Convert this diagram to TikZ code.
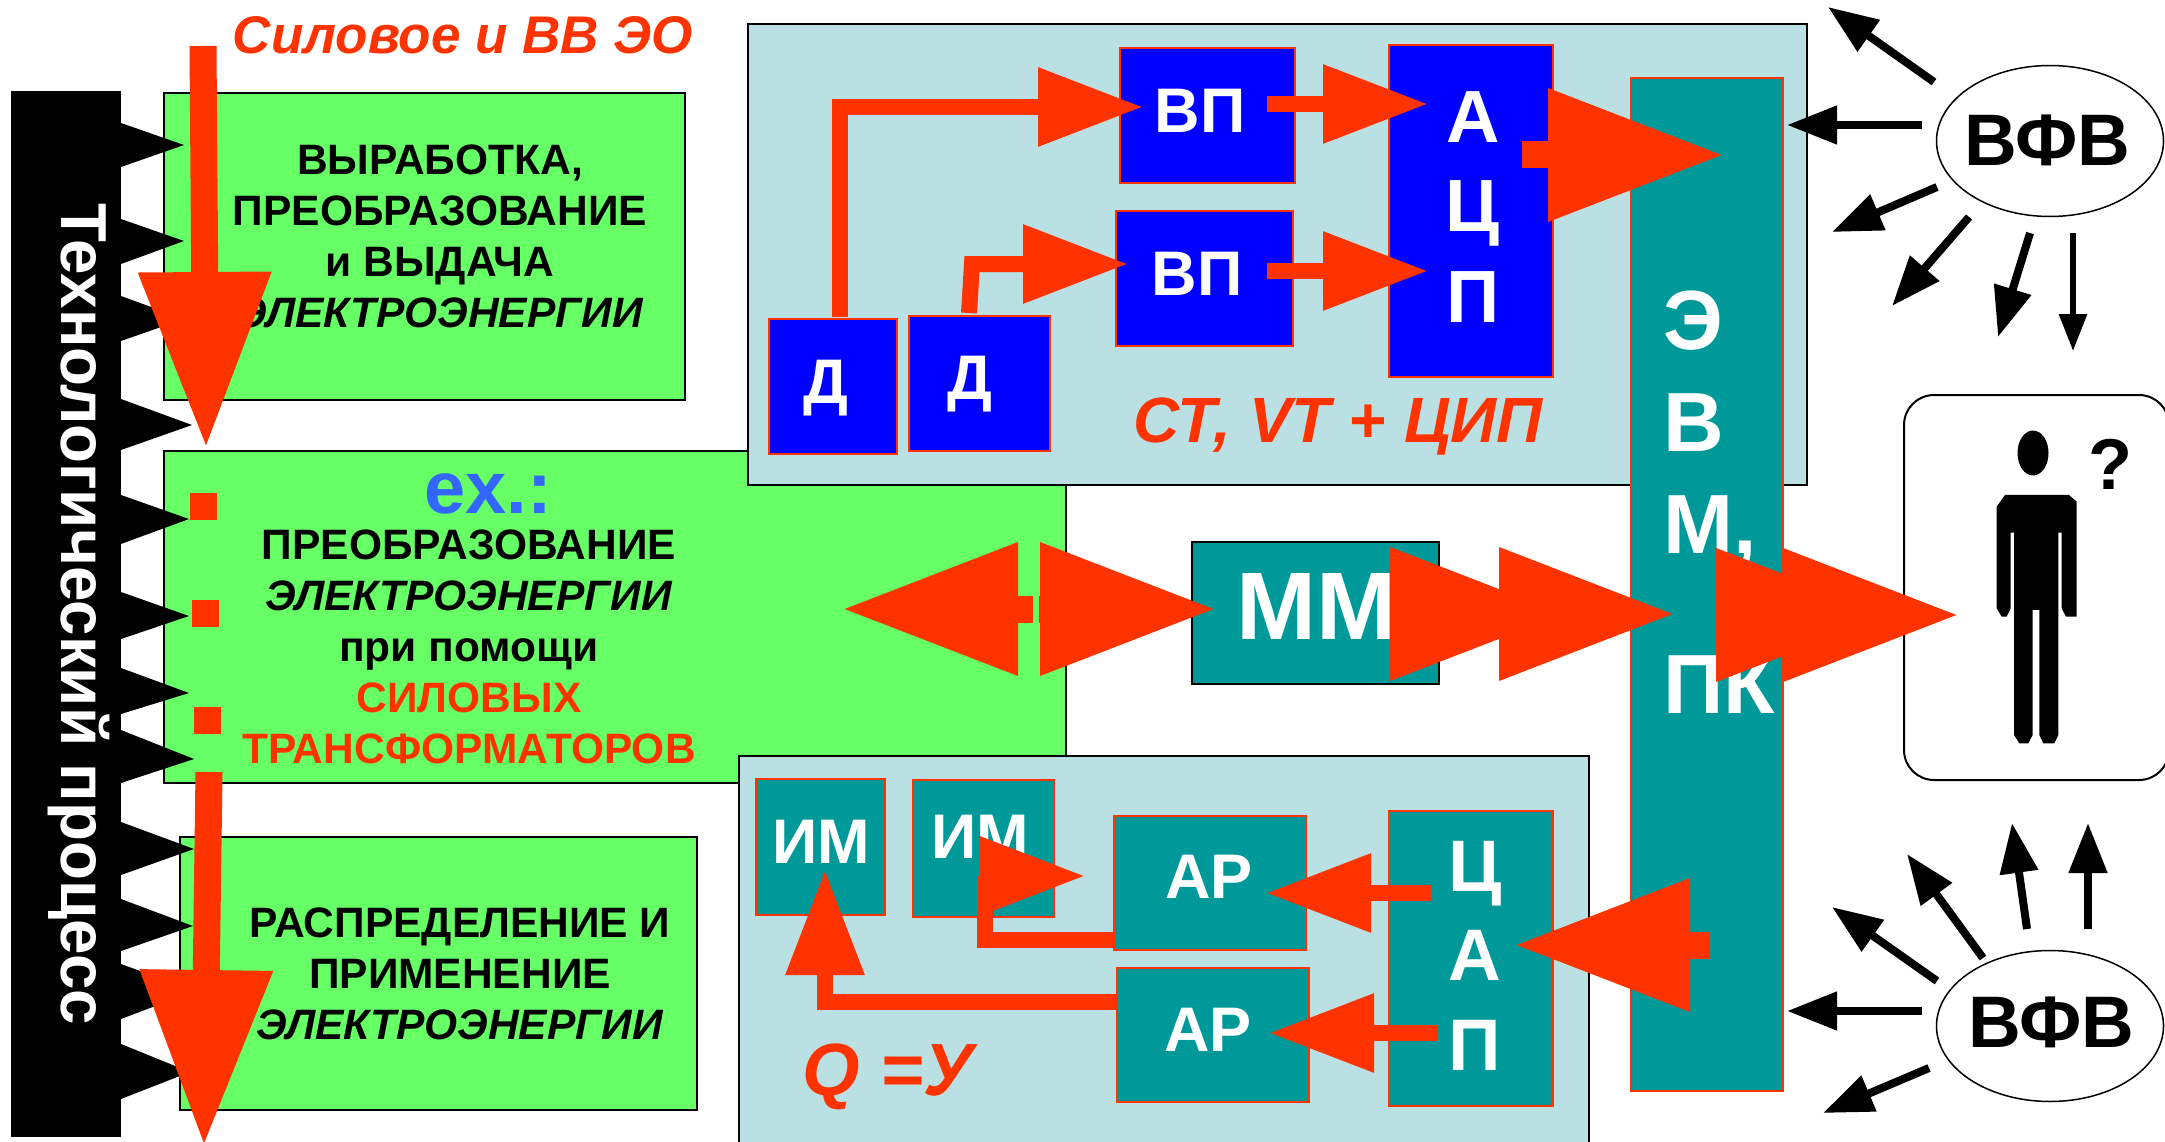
\documentclass[tikz,border=0pt]{standalone}
\usepackage{graphicx}
\usepackage{fontspec}
\setmainfont{Liberation Sans}
\usetikzlibrary{arrows.meta,shapes.geometric}
\definecolor{arred}{RGB}{255,51,0}
\definecolor{argreen}{RGB}{102,255,102}
\definecolor{arteal}{RGB}{0,153,153}
\definecolor{arblue}{RGB}{0,0,255}
\definecolor{arsky}{RGB}{51,102,255}
\definecolor{arpanel}{RGB}{187,224,227}
\begin{document}
\begin{tikzpicture}[
  x=1pt, y=-1pt,
  block/.style={draw, line width=2pt, inner sep=0pt, anchor=north west},
  greenbox/.style={block, draw=black, fill=argreen},
  panel/.style={block, draw=black, fill=arpanel},
  bluebox/.style={block, draw=arred, fill=arblue},
  tealbox/.style={block, draw=arred, fill=arteal},
  txt/.style={inner sep=0pt, anchor=base, align=center, font=\fontsize{42.5}{51}\selectfont\bfseries},
  lab/.style={inner sep=0pt, anchor=base, align=center, text=white, font=\fontsize{#1}{#1}\selectfont\bfseries},
  redtxt/.style={inner sep=0pt, anchor=base, text=arred, font=\fontsize{#1}{#1}\selectfont\bfseries\itshape},
  vfv/.style={ellipse, draw=black, line width=1.5pt, fill=white, inner sep=0pt, minimum width=227pt, minimum height=151pt},
  sq/.style={fill=arred, inner sep=0pt, minimum width=27pt, minimum height=27pt},
  bigarr/.style={arred, line width=27pt, shorten >=-4pt, -{Triangle[length=176pt,width=126pt]}},
  midarr/.style={arred, line width=16pt, shorten >=-2pt, -{Triangle[length=105pt,width=75pt]}},
  blkarr/.style={black, line width=8pt, -{Triangle[length=50pt,width=37pt]}},
  thinarr/.style={black, line width=6pt, -{Triangle[length=37pt,width=27pt]}}
]
\useasboundingbox (0,0) rectangle (2165,1142);
\clip (0,0) rectangle (2165,1142);
% green blocks
\node[greenbox, minimum width=521pt, minimum height=307pt] (gen)  at (163,92)  {};
\node[greenbox, minimum width=902pt, minimum height=332pt] (conv) at (163,450) {};
\node[greenbox, minimum width=517pt, minimum height=273pt] (dist) at (179,836) {};
% technological process bar
\node[fill=black, inner sep=0pt, anchor=north west, minimum width=110pt, minimum height=1046pt] (proc) at (11,91) {};
\foreach \a/\b/\tx/\ty in {123/167/184/145, 219/264/184/241, 296/341/184/319, 399/450/192/425,
  495/544/189/519, 592/639/189/616, 668/714/189/693, 730/783/194/759, 822/875/194/849,
  899/951/193/926, 964/1019/195/991, 1044/1099/190/1072}
  \fill[black] (121,\a) -- (\tx,\ty) -- (121,\b) -- cycle;
\node[inner sep=0pt, anchor=base, rotate=-90, text=white, font=\fontsize{65}{65}\selectfont\bfseries] (proctxt) at (61,614) {\scalebox{0.98}[1]{Технологический процесс}};
% panels
\node[panel, minimum width=1059pt, minimum height=461pt] (meas) at (747,23)  {};
\node[panel, minimum width=850pt,  minimum height=400pt] (ctrl) at (738,755) {};
% measuring side
\node[bluebox, minimum width=128pt, minimum height=135pt] (dA)  at (768,318)  {};
\node[bluebox, minimum width=141pt, minimum height=135pt] (dB)  at (908,315)  {};
\node[bluebox, minimum width=175pt, minimum height=135pt] (vpA) at (1119,47)  {};
\node[bluebox, minimum width=177pt, minimum height=135pt] (vpB) at (1115,210) {};
\node[bluebox, minimum width=164pt, minimum height=332pt] (adc) at (1388,44)  {};
% control side
\node[tealbox, minimum width=129pt, minimum height=136pt] (imA) at (755,778)  {};
\node[tealbox, minimum width=141pt, minimum height=137pt] (imB) at (912,779)  {};
\node[tealbox, minimum width=192pt, minimum height=134pt] (arA) at (1113,815) {};
\node[tealbox, minimum width=192pt, minimum height=134pt] (arB) at (1116,967) {};
\node[tealbox, minimum width=164pt, minimum height=295pt] (dac) at (1388,810) {};
% computer and model
\node[tealbox, minimum width=152pt, minimum height=1013pt] (evm) at (1630,77) {};
\node[block, draw=black, fill=arteal, minimum width=247pt, minimum height=142pt] (mm) at (1191,541) {};
% operator
\node[block, draw=black, fill=white, rounded corners=30pt, minimum width=265pt, minimum height=385pt] (man) at (1903,394) {};
\node[ellipse, fill=black, inner sep=0pt, minimum width=31pt, minimum height=45pt] (head) at (2033,453) {};
\begin{scope}[shift={(1960,420)}, x=0.3333pt, y=-0.3333pt]
\fill[black] (135,225) -- (327,225) -- (350,245) -- (350,590) -- (318,590) -- (305,565) -- (305,338)
  -- (295,338) -- (295,945) -- (283,970) -- (250,970) -- (238,945) -- (238,570) -- (218,570)
  -- (218,945) -- (205,970) -- (178,970) -- (162,945) -- (162,338) -- (152,338) -- (152,565)
  -- (140,590) -- (125,590) -- (110,565) -- (110,260) -- cycle;
\end{scope}
\node[inner sep=0pt, anchor=base, font=\fontsize{72}{72}\selectfont\bfseries] (ask) at (2110,489) {?};
\node[vfv] (vfvA) at (2050,141)  {};
\node[vfv] (vfvB) at (2050,1026) {};
\node[inner sep=0pt, anchor=base, font=\fontsize{73}{73}\selectfont\bfseries] (vfvAt) at (2047,166)  {ВФВ};
\node[inner sep=0pt, anchor=base, font=\fontsize{73}{73}\selectfont\bfseries] (vfvBt) at (2051,1047) {ВФВ};
% texts
\node[redtxt=53] (title) at (463,54) {Силовое и ВВ ЭО};
\node[txt] (gentxt) at (440,327) {ВЫРАБОТКА,\\ ПРЕОБРАЗОВАНИЕ\\ и ВЫДАЧА\\ \textit{ЭЛЕКТРОЭНЕРГИИ}};
\node[inner sep=0pt, anchor=base, text=arsky, font=\fontsize{74}{74}\selectfont\bfseries] (extxt) at (488,513) {ex.:};
\node[txt] (convtxt) at (469,763) {ПРЕОБРАЗОВАНИЕ\\ \textit{ЭЛЕКТРОЭНЕРГИИ}\\ при помощи\\ \textcolor{arred}{СИЛОВЫХ}\\ \textcolor{arred}{ТРАНСФОРМАТОРОВ}};
\node[txt] (disttxt) at (460,1039) {РАСПРЕДЕЛЕНИЕ И\\ ПРИМЕНЕНИЕ\\ \textit{ЭЛЕКТРОЭНЕРГИИ}};
\node[lab=63] (dAt)  at (826,403)  {Д};
\node[lab=63] (dBt)  at (970,399)  {Д};
\node[lab=63] (vpAt) at (1200,133) {ВП};
\node[lab=63] (vpBt) at (1197,295) {ВП};
\node[lab=74] (adcA) at (1473,143) {А};
\node[lab=74] (adcB) at (1473,232) {Ц};
\node[lab=74] (adcC) at (1473,322) {П};
\node[redtxt=64] (cttxt) at (1338,442) {СТ, VT + ЦИП};
\node[lab=63] (imAt) at (821,863)  {ИМ};
\node[lab=63] (imBt) at (980,858)  {ИМ};
\node[lab=63] (arAt) at (1209,898) {АР};
\node[lab=63] (arBt) at (1208,1051) {АР};
\node[lab=73] (dacA) at (1475,980)  {А};
\node[lab=73] (dacB) at (1475,891)  {Ц};
\node[lab=73] (dacC) at (1475,1070) {П};
\node[redtxt=74] (qtxt) at (888,1095) {Q =У};
\node[lab=84] (evmA) at (1693,349) {Э};
\node[lab=84] (evmB) at (1694,451) {В};
\node[lab=84, anchor=base west] (evmC) at (1663,553) {М,};
\node[lab=84, anchor=base west] (evmD) at (1663,713) {ПК};
\node[lab=96] (mmt) at (1316,639) {ММ};
% power flow
\node[sq] (sqA) at (203.5,506.5) {};
\node[sq] (sqB) at (205.5,613)   {};
\node[sq] (sqC) at (207.5,720)   {};
\coordinate (flowA) at (203,46);
\coordinate (flowB) at (206,444);
\coordinate (flowC) at (209,772);
\coordinate (flowD) at (204,1142);
\draw[bigarr] (flowA) -- (flowB);
\draw[bigarr] (flowC) -- (flowD);
% measuring connectors
\coordinate (dAout) at (840,317);
\coordinate (dAup)  at (840,107);
\coordinate (vpAin) at (1141,107);
\coordinate (dBout) at (969,313);
\coordinate (dBup)  at (972,264);
\coordinate (vpBin) at (1126,264);
\coordinate (vpAout) at (1267,104);
\coordinate (adcinA) at (1426,104);
\coordinate (vpBout) at (1267,271);
\coordinate (adcinB) at (1426,271);
\coordinate (adcout) at (1522,155);
\coordinate (evminA) at (1720,155);
\draw[midarr] (dAout) -- (dAup) -- (vpAin);
\draw[midarr] (dBout) -- (dBup) -- (vpBin);
\draw[midarr] (vpAout) -- (adcinA);
\draw[midarr] (vpBout) -- (adcinB);
\draw[bigarr] (adcout) -- (evminA);
% control connectors
\coordinate (evmout) at (1709,945);
\coordinate (dacin)  at (1518,945);
\coordinate (dacoutA) at (1432,893);
\coordinate (arinA)   at (1268,893);
\coordinate (dacoutB) at (1437,1033);
\coordinate (arinB)   at (1271,1033);
\coordinate (aroutA)  at (1113,940);
\coordinate (bendA)   at (985,940);
\coordinate (bendB)   at (985,876);
\coordinate (iminB)   at (1083,876);
\coordinate (aroutB)  at (1116,1002);
\coordinate (bendC)   at (825,1002);
\coordinate (iminA)   at (825,872);
\draw[bigarr] (evmout) -- (dacin);
\draw[midarr] (dacoutA) -- (arinA);
\draw[midarr] (dacoutB) -- (arinB);
\draw[midarr] (aroutA) -- (bendA) -- (bendB) -- (iminB);
\draw[midarr] (aroutB) -- (bendC) -- (iminA);
% model connectors
\coordinate (mainL) at (1033,609);
\coordinate (mainT) at (846,609);
\coordinate (mmbk)  at (1039,609);
\coordinate (mmin)  at (1212,609);
\coordinate (mmoutA) at (1390,614);
\coordinate (mmtipA) at (1562,614);
\coordinate (mmoutB) at (1498,614);
\coordinate (mmtipB) at (1671,614);
\coordinate (evmoutA) at (1716,615);
\coordinate (evmtipA) at (1888,615);
\coordinate (evmoutB) at (1783,615);
\coordinate (evmtipB) at (1955,615);
\draw[bigarr] (mainL) -- (mainT);
\draw[bigarr] (mmbk) -- (mmin);
\draw[bigarr] (mmoutA) -- (mmtipA);
\draw[bigarr] (mmoutB) -- (mmtipB);
\draw[bigarr] (evmoutA) -- (evmtipA);
\draw[bigarr] (evmoutB) -- (evmtipB);
% disturbances
\coordinate (vaS) at (1934,82);   \coordinate (vaT) at (1828,7);
\coordinate (vbS) at (1922,125);  \coordinate (vbT) at (1787,125);
\coordinate (vcS) at (1937,187);  \coordinate (vcT) at (1832,232);
\coordinate (vdS) at (1969,217);  \coordinate (vdT) at (1892,306);
\coordinate (veS) at (2030,233);  \coordinate (veT) at (1998,337);
\coordinate (vfS) at (2073,233);  \coordinate (vfT) at (2073,351);
\coordinate (waS) at (2088,929);  \coordinate (waT) at (2088,823);
\coordinate (wbS) at (2027,929);  \coordinate (wbT) at (2012,823);
\coordinate (wcS) at (1983,958);  \coordinate (wcT) at (1907,854);
\coordinate (wdS) at (1937,981);  \coordinate (wdT) at (1832,907);
\coordinate (weS) at (1922,1011); \coordinate (weT) at (1787,1011);
\coordinate (wfS) at (1929,1068); \coordinate (wfT) at (1823,1113);
\foreach \s/\t in {va/va, vb/vb, vc/vc, vd/vd, ve/ve, wa/wa, wb/wb, wc/wc, wd/wd, we/we, wf/wf}
  \draw[blkarr] (\s S) -- (\t T);
\draw[thinarr] (vfS) -- (vfT);
\end{tikzpicture}
\end{document}
